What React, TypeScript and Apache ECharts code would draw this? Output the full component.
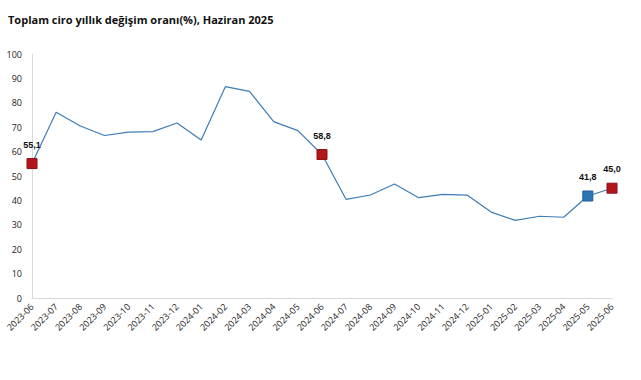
import React, { useEffect, useRef } from "react";
import * as echarts from "echarts";

const categories = [
  "2023-06", "2023-07", "2023-08", "2023-09", "2023-10", "2023-11", "2023-12",
  "2024-01", "2024-02", "2024-03", "2024-04", "2024-05", "2024-06", "2024-07",
  "2024-08", "2024-09", "2024-10", "2024-11", "2024-12", "2025-01", "2025-02",
  "2025-03", "2025-04", "2025-05", "2025-06",
];
const values = [
  55.1, 76.1, 70.5, 66.6, 68.0, 68.2, 71.7, 64.8, 86.6, 84.7, 72.3, 68.6, 58.8,
  40.4, 42.2, 46.7, 41.1, 42.5, 42.2, 35.2, 31.8, 33.5, 33.1, 41.8, 45.0,
];
const highlightRed = ["2023-06", "2024-06", "2025-06"];
const highlightBlue = ["2025-05"];
const yTicks = { min: 0, max: 100, interval: 10 };
const title = "Toplam ciro yıllık değişim oranı(%), Haziran 2025";

export default function App() {
  const ref = useRef<HTMLDivElement>(null);
  useEffect(() => {
    if (!ref.current) return;
    const chart = echarts.init(ref.current, undefined, { renderer: "svg" });
    const data = values.map((v, i) => {
      const c = categories[i];
      const isRed = highlightRed.includes(c);
      const isBlue = highlightBlue.includes(c);
      if (isRed || isBlue) {
        return {
          value: v,
          symbol: "rect",
          symbolSize: 10,
          itemStyle: {
            color: isRed ? "#b2161b" : "#2e75b6",
            borderColor: isRed ? "#8c1015" : "#1f5f96",
            borderWidth: 1,
          },
          label: {
            show: true,
            position: "top",
            distance: 9,
            formatter: v.toFixed(1).replace(".", ","),
            fontSize: 9,
            fontWeight: "bold",
            color: "#111",
            fontFamily: "Liberation Sans",
          },
        };
      }
      return { value: v, symbol: "none" };
    });
    chart.setOption({
      animation: false,
      title: {
        text: title,
        left: 3,
        top: 9,
        textStyle: { fontSize: 11, fontWeight: "bold", color: "#111", fontFamily: "Open Sans" },
      },
      grid: { left: 32, right: 29, top: 54, bottom: 82, containLabel: false },
      xAxis: {
        type: "category",
        data: categories,
        boundaryGap: false,
        axisLine: { lineStyle: { color: "#d9d9d9", width: 1 } },
        axisTick: { show: false },
        axisLabel: {
          rotate: 45,
          interval: 0,
          fontSize: 9,
          color: "#222",
          margin: 7,
          fontFamily: "Open Sans",
        },
      },
      yAxis: {
        type: "value",
        min: yTicks.min,
        max: yTicks.max,
        interval: yTicks.interval,
        axisLine: { show: true, lineStyle: { color: "#d9d9d9", width: 1 } },
        axisTick: { show: false },
        splitLine: { show: false },
        axisLabel: { fontSize: 9, color: "#222", margin: 10, fontFamily: "Open Sans" },
      },
      series: [
        {
          type: "line",
          data,
          lineStyle: { color: "#3d7db5", width: 1.2 },
          itemStyle: { color: "#3d7db5" },
          showSymbol: true,
          z: 3,
        },
      ],
    });
    return () => chart.dispose();
  }, []);
  return <div ref={ref} style={{ width: 641, height: 380, position: "absolute", left: 0, top: 0 }} />;
}
